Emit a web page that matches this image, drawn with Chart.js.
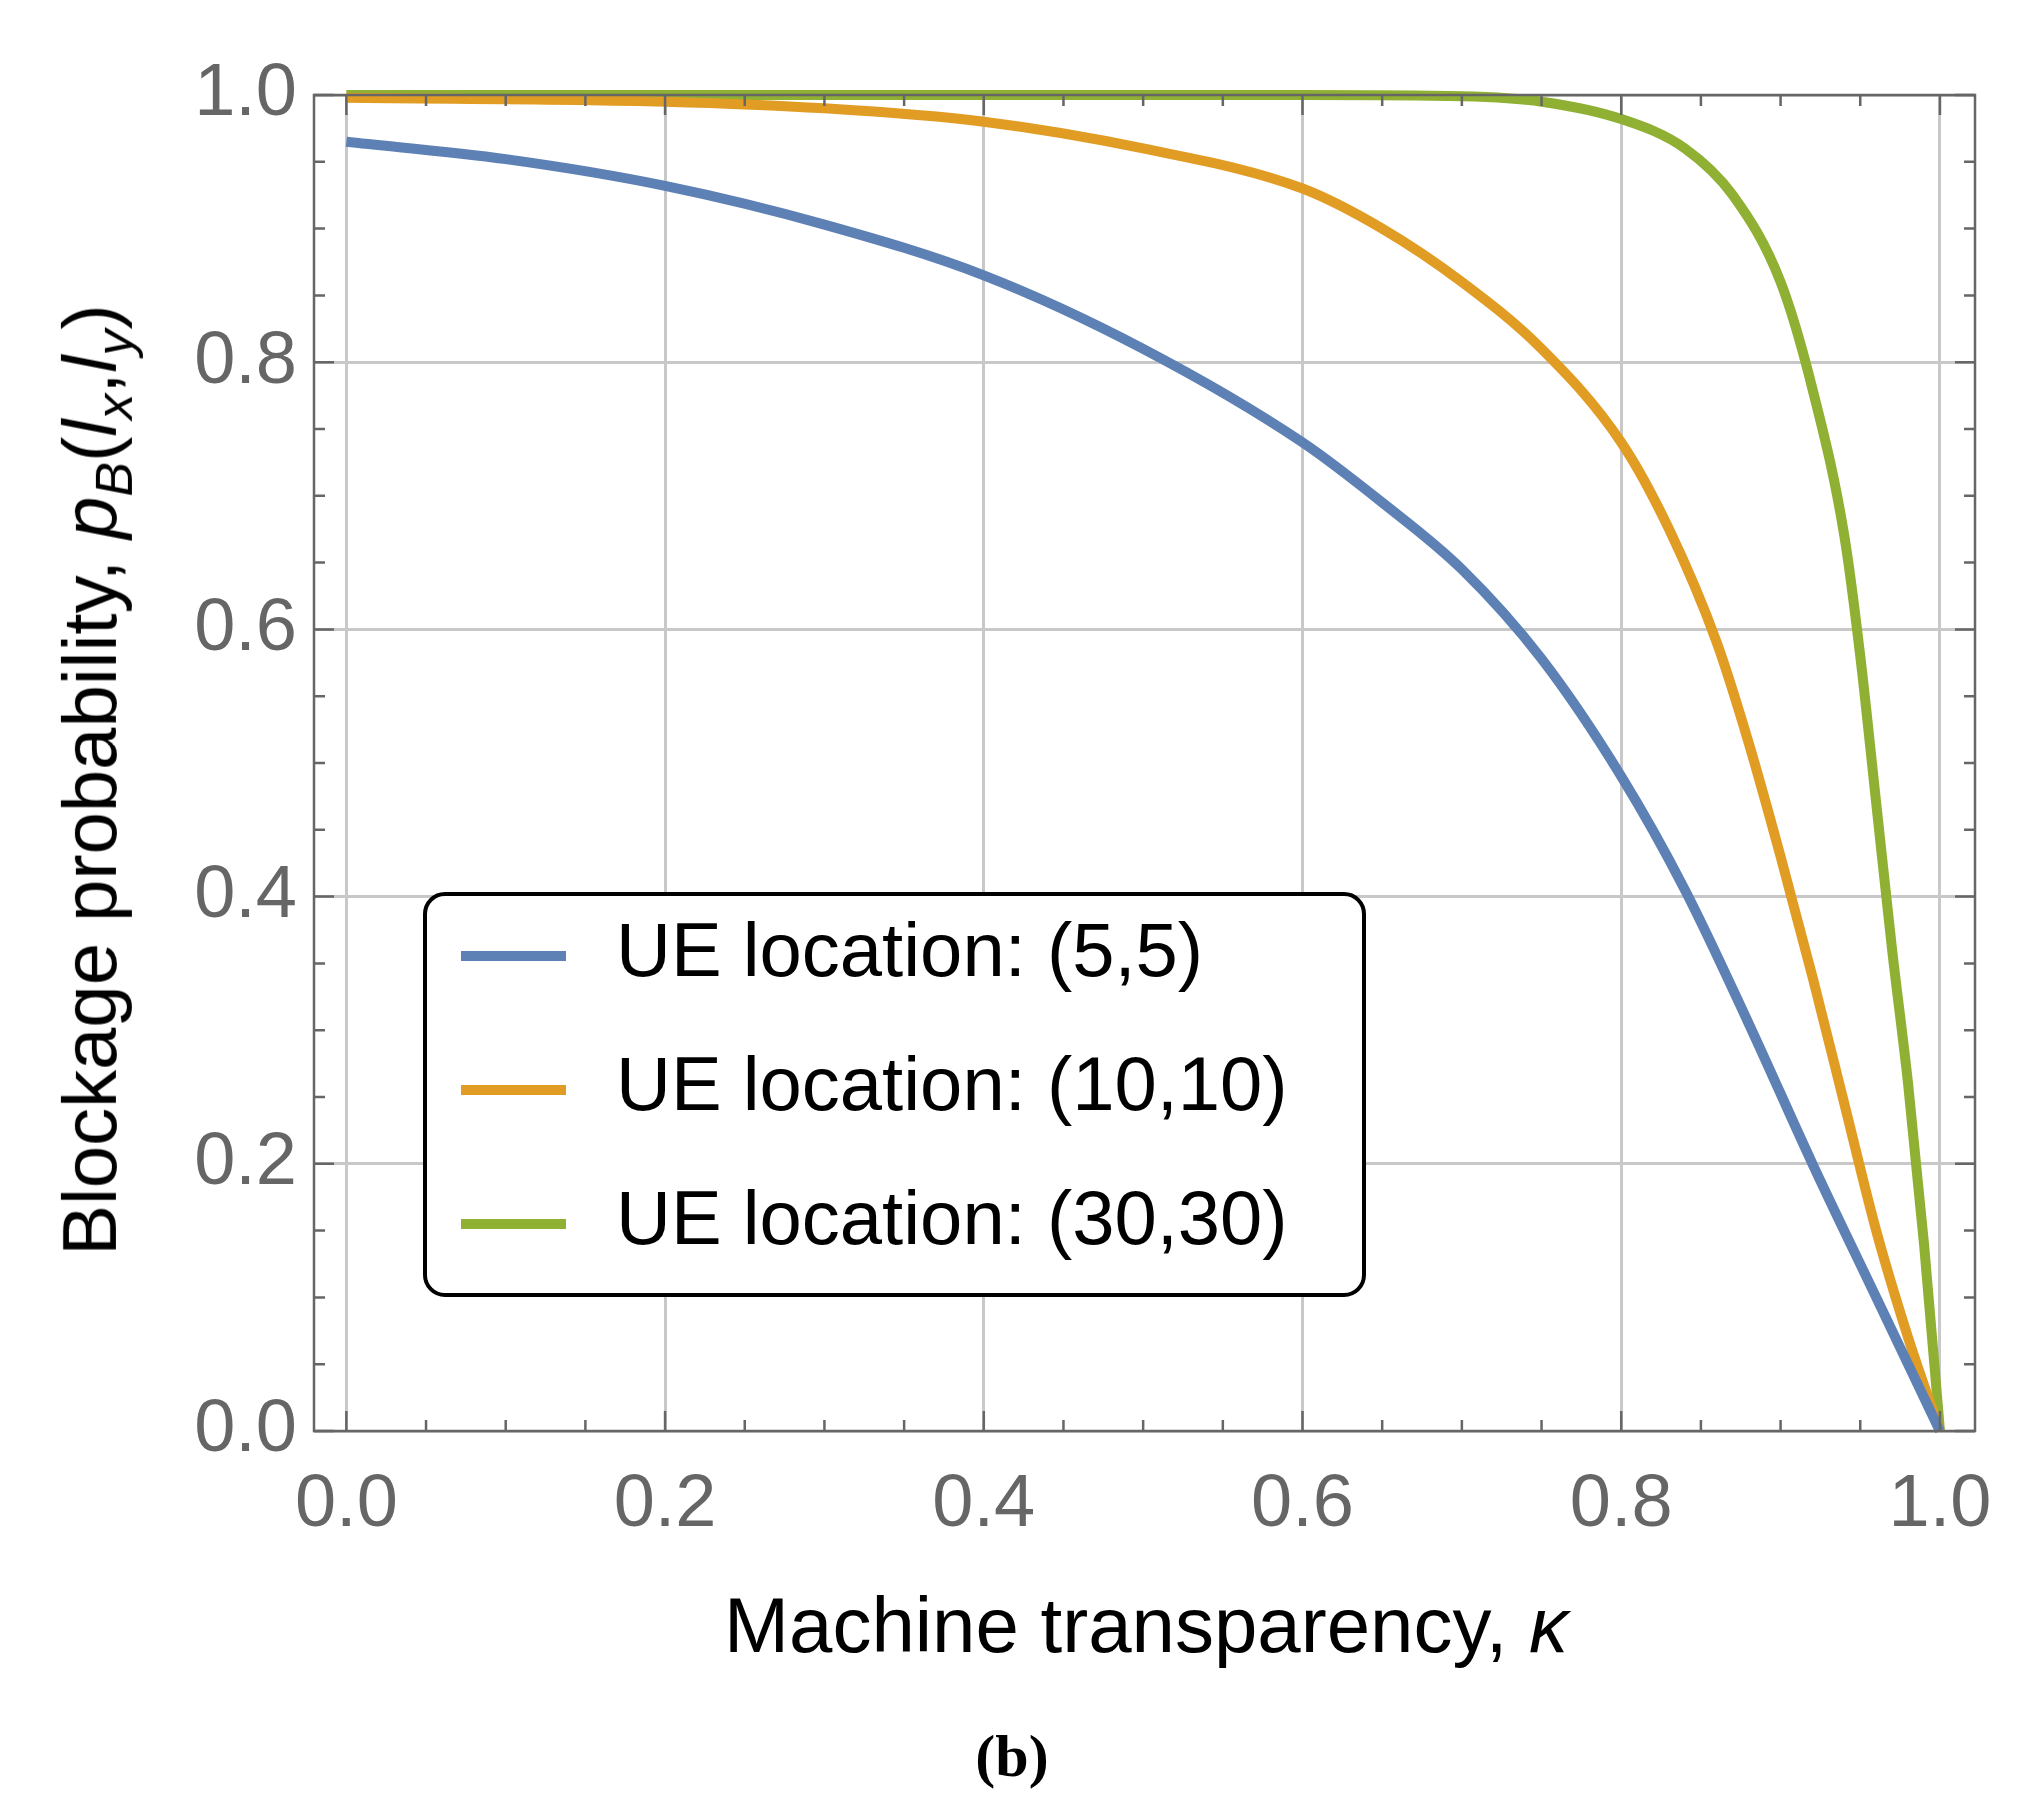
<!DOCTYPE html>
<html><head><meta charset="utf-8">
<script src="https://cdn.jsdelivr.net/npm/chart.js@4"></script>
<style>
body{margin:0;background:#fff;width:2030px;height:1811px;position:relative;overflow:hidden;font-family:"Liberation Sans",Arial,sans-serif}
#wrap{position:absolute;left:0;top:0;width:2030px;height:1811px}
.lab{position:absolute;color:#000;white-space:nowrap}
#legend{position:absolute;left:423px;top:892px;width:943px;height:405px;border:4px solid #000;border-radius:22px;background:#fff;box-sizing:border-box}
.li{position:absolute;left:34px;font-size:76px}
.li span{display:inline-block;width:105px;height:10px;vertical-align:middle;margin-right:50px}
</style></head><body>
<div id="wrap"><canvas id="c" width="2030" height="1811"></canvas></div>
<div class="lab" style="left:95px;top:780px;font-size:76px;transform:translate(-50%,-50%) rotate(-90deg)">Blockage probability, <i>p</i><sub style="font-size:52px"><i>B</i></sub>(<i>l</i><sub style="font-size:52px"><i>x</i></sub>,<i>l</i><sub style="font-size:52px"><i>y</i></sub>)</div>
<div class="lab" style="left:1146px;top:1625px;font-size:78px;transform:translate(-50%,-50%)">Machine transparency, <i>κ</i></div>
<div class="lab" style="left:1012px;top:1756px;font-size:60px;font-weight:bold;font-family:'Liberation Serif',serif;transform:translate(-50%,-50%)">(b)</div>
<div id="legend"></div>
<script>
const names = ['UE location: (5,5)', 'UE location: (10,10)', 'UE location: (30,30)'];
const colors = ['#5e81b5', '#e19c24', '#8fb032'];
const kBlue = [0, 0.1, 0.2, 0.3, 0.4, 0.5, 0.6, 0.65, 0.7, 0.75, 0.8, 0.84, 0.88, 0.92, 0.96, 1.0];
const pBlue = [0.965, 0.952, 0.932, 0.903, 0.865, 0.81, 0.74, 0.695, 0.645, 0.578, 0.49, 0.405, 0.305, 0.2, 0.1, 0];
const kOrange = [0, 0.2, 0.3, 0.4, 0.5, 0.6, 0.65, 0.7, 0.75, 0.8, 0.83, 0.86, 0.88, 0.9, 0.92, 0.94, 0.96, 0.98, 1.0];
const pOrange = [0.998, 0.995, 0.99, 0.98, 0.96, 0.93, 0.9, 0.86, 0.81, 0.74, 0.675, 0.59, 0.515, 0.43, 0.34, 0.245, 0.15, 0.07, 0];
const kGreen = [0, 0.3, 0.6, 0.7, 0.75, 0.8, 0.84, 0.87, 0.9, 0.92, 0.94, 0.95, 0.96, 0.97, 0.98, 0.99, 1.0];
const pGreen = [1, 1, 1, 0.999, 0.995, 0.982, 0.96, 0.925, 0.86, 0.78, 0.67, 0.58, 0.47, 0.36, 0.26, 0.14, 0];
const xTicks = [0, 0.2, 0.4, 0.6, 0.8, 1.0];
const yTicks = [0, 0.2, 0.4, 0.6, 0.8, 1.0];

const leg = document.getElementById('legend');
names.forEach((n, i) => {
  leg.innerHTML += '<div class="li" style="top:' + (10 + i * 134) + 'px"><span style="background:' + colors[i] + '"></span>' + n + '</div>';
});

function pts(k, p) { return k.map((x, i) => ({x: x, y: p[i]})); }

// frame + inward ticks on all sides, Mathematica style
const frame = {
  id: 'frame',
  afterDatasetsDraw(chart) {
    const {ctx, chartArea: a, scales: {x, y}} = chart;
    ctx.save();
    ctx.strokeStyle = '#666';
    ctx.lineWidth = 2.5;
    ctx.strokeRect(a.left, a.top, a.right - a.left, a.bottom - a.top);
    for (let i = 0; i <= 20; i++) {
      const v = i / 20, big = i % 4 === 0, L = big ? 20 : 11;
      const px = x.getPixelForValue(v);
      ctx.beginPath();
      ctx.moveTo(px, a.bottom); ctx.lineTo(px, a.bottom - L);
      ctx.moveTo(px, a.top); ctx.lineTo(px, a.top + L);
      ctx.stroke();
    }
    for (let i = 0; i <= 20; i++) {
      const v = i / 20, big = i % 4 === 0, L = big ? 20 : 11;
      const py = y.getPixelForValue(v);
      ctx.beginPath();
      ctx.moveTo(a.left, py); ctx.lineTo(a.left + L, py);
      ctx.moveTo(a.right, py); ctx.lineTo(a.right - L, py);
      ctx.stroke();
    }
    ctx.restore();
  }
};

new Chart(document.getElementById('c'), {
  type: 'scatter',
  data: {
    datasets: [
      {label: names[0], data: pts(kBlue, pBlue)},
      {label: names[1], data: pts(kOrange, pOrange)},
      {label: names[2], data: pts(kGreen, pGreen)}
    ].map((d, i) => Object.assign(d, {
      showLine: true, borderColor: colors[i], borderWidth: 10, pointRadius: 0,
      cubicInterpolationMode: 'monotone', clip: false
    }))
  },
  options: {
    responsive: false, animation: false, devicePixelRatio: 1,
    layout: {padding: {top: 95, right: 55, left: 0, bottom: 0}},
    plugins: {legend: {display: false}, tooltip: {enabled: false}},
    scales: {
      x: {
        type: 'linear', min: -0.0203, max: 1.022,
        afterBuildTicks: s => { s.ticks = xTicks.map(v => ({value: v})); },
        afterFit: s => { s.height = 380; },
        border: {display: false},
        grid: {color: '#c8c8c8', lineWidth: 3, drawTicks: false},
        ticks: {padding: 30, color: '#666', font: {size: 74, family: 'Liberation Sans'}, maxRotation: 0,
                callback: v => v.toFixed(1)}
      },
      y: {
        type: 'linear', min: 0, max: 1,
        afterBuildTicks: s => { s.ticks = yTicks.map(v => ({value: v})); },
        afterFit: s => { s.width = 314; },
        border: {display: false},
        grid: {color: '#c8c8c8', lineWidth: 3, drawTicks: false},
        ticks: {padding: 17, color: '#666', font: {size: 74, family: 'Liberation Sans'},
                callback: v => v.toFixed(1)}
      }
    }
  },
  plugins: [frame]
});
</script>
</body></html>
